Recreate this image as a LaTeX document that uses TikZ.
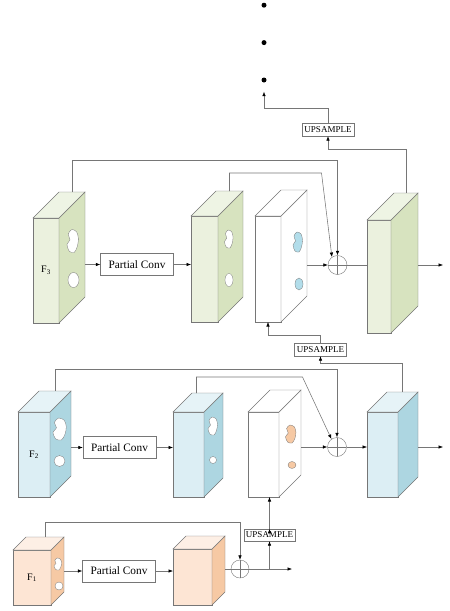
\documentclass[tikz,border=0pt]{standalone}
\usepackage{fontspec}
\setmainfont{Liberation Serif}
\usepackage{xcolor}
\usetikzlibrary{positioning,calc,arrows.meta}

\definecolor{gfront}{HTML}{EBF1DE}
\definecolor{gside}{HTML}{D7E3BF}
\definecolor{gtop}{HTML}{EEF4E4}
\definecolor{bfront}{HTML}{DCEEF4}
\definecolor{bside}{HTML}{ADD6E1}
\definecolor{btop}{HTML}{E6F3F7}
\definecolor{ofront}{HTML}{FDE5D4}
\definecolor{oside}{HTML}{F6C9A4}
\definecolor{otop}{HTML}{FDEFE5}
\colorlet{wfront}{white}
\colorlet{wside}{white}
\colorlet{wtop}{white}
\definecolor{linegray}{HTML}{767676}
\definecolor{bblob}{HTML}{B2DDEA}

\tikzset{
    face/.style = {draw = linegray, line width = 0.45pt, inner sep = 0pt, outer sep = 0pt, font = \fontsize{10}{10}\selectfont},
    faceline/.style = {draw = linegray, line width = 0.45pt},
    conv/.style = {draw = linegray, inner sep = 0pt, minimum width = 73, minimum height = 22, font = \fontsize{11.3}{12}\selectfont},
    upbox/.style = {draw = linegray, inner sep = 0pt, minimum width = 52, minimum height = 13, font = \fontsize{9}{9}\selectfont},
    sum/.style = {circle, draw = linegray, minimum size = 19, inner sep = 0pt,
        path picture = {\draw[linegray, line width = 0.3pt] (path picture bounding box.north) -- (path picture bounding box.south)
            (path picture bounding box.west) -- (path picture bounding box.east);}},
    conn/.style = {draw = linegray, line width = 0.55pt},
    dot/.style = {circle, fill = black, minimum size = 5, inner sep = 0pt},
    hole/.style = {draw = linegray, line width = 0.3pt}
}

% block: name, centre, width, height, depth, colour set, label
\newcommand{\cuboid}[7]{%
    \node [face, fill = #6front, minimum width = #3, minimum height = #4] (#1) at (#2) {#7};
    \draw [faceline, fill = #6side] (#1.north east) -- ++(#5,-#5) -- ++(0,#4) -- (#1.south east) -- cycle;
    \draw [faceline, fill = #6top] (#1.north west) -- ++(#5,-#5) -- ++(#3,0) -- (#1.north east) -- cycle;
    \coordinate (#1-r) at ($(#1.east)+(#5,-#5)$);
    \coordinate (#1-b) at ($(#1.north)+(#5,-#5)$);
}
% irregular hole: centre x, y, width, height, fill
\newcommand{\blob}[5]{%
    \draw [hole, fill = #5, shift = {(#1,#2)}, xscale = #3, yscale = #4] plot [smooth cycle] coordinates
        {(-0.1,-0.5) (0.3,-0.4) (0.45,-0.1) (0.35,0.25) (0.1,0.5) (-0.3,0.45) (-0.5,0.15) (-0.25,-0.05) (-0.4,-0.3)};
}

\begin{document}
\begin{tikzpicture}[x = 1pt, y = -1pt, >={Latex[length=4.5pt, width=3.5pt, color=black]}]
        \useasboundingbox (0,0) rectangle (450,611);

        % level 3
        \cuboid{F3}{46,270.5}{26}{105}{26}{g}{F\textsubscript{3}}
        \cuboid{C3}{204.5,269}{27}{106}{25}{g}{}
        \cuboid{M3}{268,269}{26}{106}{26}{w}{}
        \cuboid{O3}{379,276.5}{24}{113}{27}{g}{}
        \blob{73}{241}{12}{23}{white}
        \draw [hole, fill = white] (73.5,280) ellipse [x radius = 5.5, y radius = 7.5];
        \blob{229}{239}{9}{18}{white}
        \draw [hole, fill = white] (229,280) ellipse [x radius = 4, y radius = 6.5];
        \blob{298}{242}{10}{20}{bblob}
        \draw [hole, fill = bblob] (299,284) ellipse [x radius = 4, y radius = 6];
        \node [conv] (P3) at (137,264.5) {Partial Conv};
        \node [sum] (S3) at (337.5,265) {};
        \node [upbox] (U4) at (328,129.5) {UPSAMPLE};
        \node [upbox] (U3) at (320.5,349.5) {UPSAMPLE};
        \coordinate (out3) at (443,265);

        % dots above
        \node [dot] (d3) at (264,80) {};
        \node [dot] (d2) [above = 32pt of d3] {};
        \node [dot] (d1) [above = 32pt of d2] {};
        \coordinate [below = 9pt of d3] (dend);

        % level 2
        \cuboid{F2}{34,454.5}{32}{85}{21}{b}{F\textsubscript{2}}
        \cuboid{C2}{188.5,454.5}{31}{85}{19}{b}{}
        \cuboid{M2}{263.5,454.5}{31}{85}{22}{w}{}
        \cuboid{O2}{382.5,454.5}{31}{85}{20}{b}{}
        \blob{60}{429}{14}{22}{white}
        \draw [hole, fill = white] (59.5,461) circle [radius = 5.5];
        \blob{213}{426}{10}{18}{white}
        \draw [hole, fill = white] (213,460) circle [radius = 3.5];
        \blob{291}{434}{11}{18}{oside}
        \draw [hole, fill = oside] (292,465) ellipse [x radius = 4, y radius = 3.5];
        \node [conv] (P2) at (119.5,447.5) {Partial Conv};
        \node [sum] (S2) at (337,447) {};
        \coordinate (out2) at (443,447);

        % level 1
        \cuboid{F1}{32,577.5}{38}{55}{13}{o}{F\textsubscript{1}}
        \cuboid{C1}{192.5,577}{39}{56}{13}{o}{}
        \blob{58}{564}{8}{12}{white}
        \draw [hole, fill = white] (59,586) circle [radius = 4];
        \node [conv] (P1) at (119,571) {Partial Conv};
        \node [sum, minimum size = 18] (S1) at (240,569) {};
        \node [upbox, minimum width = 51, minimum height = 12] (U1) at (269.5,535) {UPSAMPLE};
        \coordinate (out1) at (292,569);

        \path [conn, ->]
            (P3.west -| F3-r) edge (P3.west)
            (P3.east) edge (P3.east -| C3.west)
            (S3.west -| M3-r) edge (S3.west)
            (O3-r |- S3.east) edge (out3)
            (P2.west -| F2-r) edge (P2.west)
            (P2.east) edge (P2.east -| C2.west)
            (S2.west -| M2-r) edge (S2.west)
            (S2.east) edge (S2.east -| O2.west)
            (O2-r |- S2.east) edge (out2)
            (P1.west -| F1-r) edge (P1.west)
            (P1.east) edge (P1.east -| C1.west)
            (S1.east) edge (out1)
            (U1.south |- S1.east) edge (U1.south)
            (U1.north) edge (U1.north |- M2.south);
        \draw [conn] (S3.east) -- (S3.east -| O3.west);
        \draw [conn] (S1.west -| C1-r) -- (S1.west);

        % skip connections and upsampling paths
        \draw [conn, ->] (F3-b) -- ++(0,-32) -| (S3.north);
        \draw [conn, ->] (C3-b) -- ++(0,-18) -- ++(92,0) -- (S3.125);
        \draw [conn, ->] (O3-b) -- ++(0,-44) -| (U4.south);
        \draw [conn, ->] (U4.north) -- ++(0,-15) -| (dend);
        \draw [conn, ->] (U3.north) -- ++(0,-8) -| (M3.south);
        \draw [conn, ->] (O2-b) -- ++(0,-29) -| (U3.south);
        \draw [conn, ->] (F2-b) -- ++(0,-22) -| (S2.north);
        \draw [conn, ->] (C2-b) ++(-11,0) -- ++(0,-16) -- ++(106,0) -- (S2.125);
        \draw [conn, ->] (F1-b) -- ++(0,-15) -| (S1.north);
    \end{tikzpicture}
\end{document}
